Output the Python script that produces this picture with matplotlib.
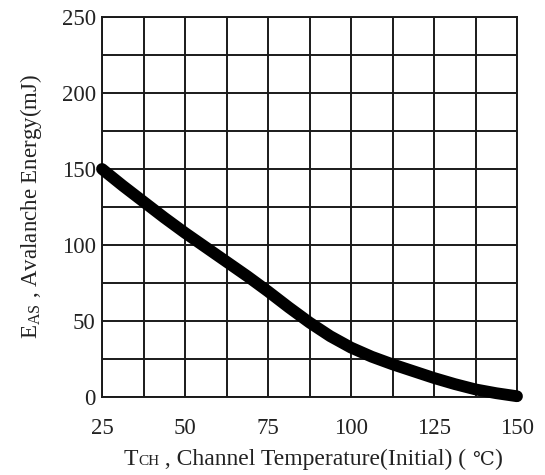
import numpy as np
import matplotlib
matplotlib.use('Agg')
import matplotlib.pyplot as plt
from matplotlib.offsetbox import TextArea, HPacker, AnchoredOffsetbox

plt.rcParams['font.family'] = ['Liberation Serif', 'DejaVu Serif']
plt.rcParams['mathtext.fontset'] = 'custom'
plt.rcParams['mathtext.rm'] = 'Liberation Serif'

# curve
temp = [25, 31.25, 37.5, 43.75, 50, 56.25, 62.5, 68.75, 75, 81.25, 87.5,
        93.75, 100, 106.25, 112.5, 118.75, 125, 131.25, 137.5, 143.75, 150]
energy = [150, 139, 128.5, 118, 108, 98.5, 89, 79.5, 69.5, 59, 49,
          40, 32.5, 26.5, 21.5, 17, 12.5, 8.5, 5, 2.5, 0.5]

xticks = [25, 50, 75, 100, 125, 150]
yticks = [0, 50, 100, 150, 200, 250]

txtc = '#222222'

fig = plt.figure(figsize=(5.45, 4.75), dpi=100)
ax = fig.add_axes([102/545, 78/475, 415/545, 380/475])

ax.plot(temp, energy, color='black', lw=8.5, solid_capstyle='round',
        solid_joinstyle='round', zorder=3, clip_on=False)

ax.set_xlim(25, 150)
ax.set_ylim(0, 250)
ax.set_xticks(xticks)
ax.set_yticks(yticks)
ax.set_xticks(np.arange(25, 151, 12.5), minor=True)
ax.set_yticks(np.arange(0, 251, 25), minor=True)
ax.grid(which='both', color='#1a1a1a', lw=1.4)
ax.tick_params(which='both', length=0, labelsize=16.5, colors=txtc)
ax.tick_params(axis='x', pad=15)
ax.tick_params(axis='y', pad=4.5)
for s in ax.spines.values():
    s.set_linewidth(1.4)
    s.set_color('#1a1a1a')

# x label built from pieces so the small "CH" and the ℃ sign both render
parts = [TextArea('T', textprops=dict(size=17, color=txtc)),
         TextArea('CH', textprops=dict(size=11, color=txtc)),
         TextArea(' , Channel Temperature(Initial) ( ',
                  textprops=dict(size=17, color=txtc)),
         TextArea('℃', textprops=dict(size=14, color=txtc, weight='light')),
         TextArea(')', textprops=dict(size=17, color=txtc))]
box = HPacker(children=parts, align='baseline', pad=0, sep=0)
anch = AnchoredOffsetbox(loc='lower center', child=box, frameon=False,
                         bbox_to_anchor=(313/545, 5/475),
                         bbox_transform=fig.transFigure,
                         borderpad=0, pad=0)
fig.add_artist(anch)

ax.set_ylabel(r'E$_{\mathrm{AS}}$ , Avalanche Energy(mJ)',
              fontsize=16.5, color=txtc, labelpad=13)

fig.savefig('out.png', dpi=100)
